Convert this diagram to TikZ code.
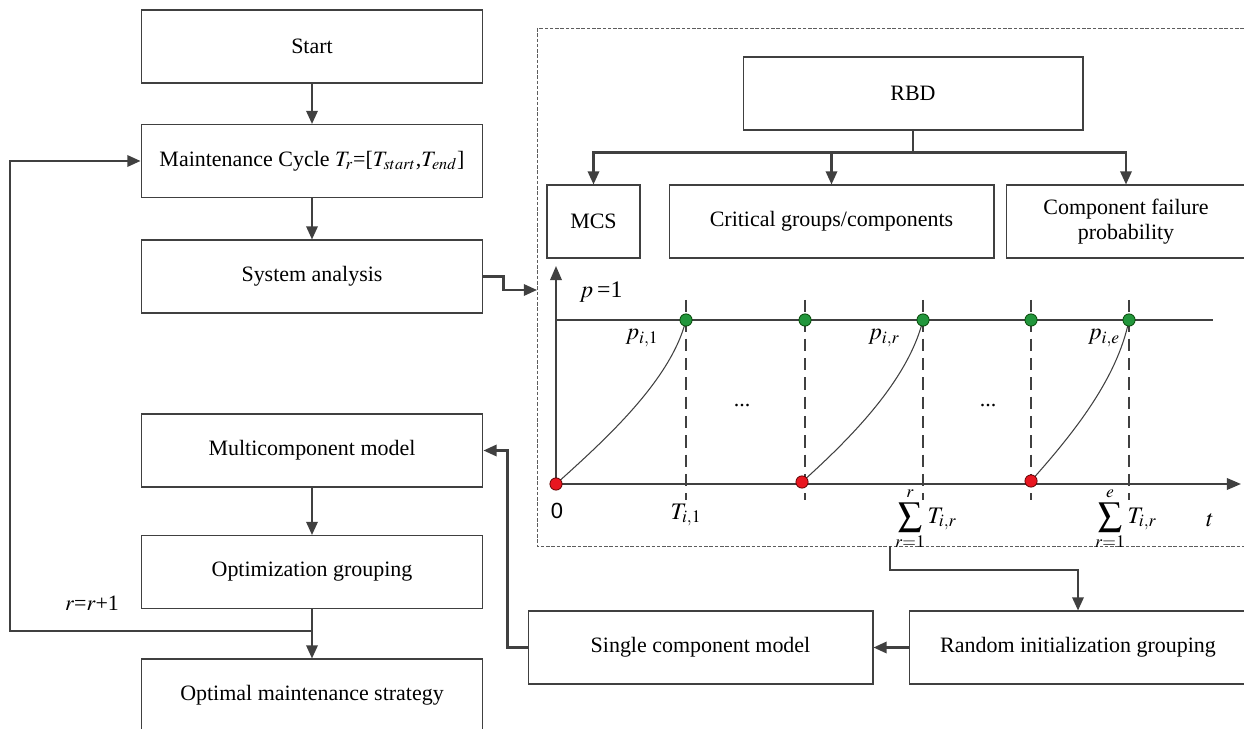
\documentclass[tikz,border=0pt]{standalone}
\usepackage{mathptmx}
\usepackage[no-math]{fontspec}
\setmainfont{Liberation Serif}
\setsansfont{Liberation Sans}
\usetikzlibrary{arrows.meta,positioning,calc}
\definecolor{linegray}{RGB}{64,64,64}
\definecolor{dotgreen}{RGB}{34,150,60}
\definecolor{dotred}{RGB}{232,22,32}

\begin{document}
\begin{tikzpicture}[x=0.02cm,y=-0.02cm,
    font=\fontsize{12.5}{14.5}\selectfont,
    stepbox/.style={draw=linegray, line width=0.6pt, minimum width=6.84cm, minimum height=1.46cm, align=center, inner sep=0pt},
    flow/.style={draw=linegray, line width=1.2pt, -{Triangle[length=7.5pt,width=6.5pt]}},
    wire/.style={draw=linegray, line width=1.2pt},
    gdot/.style={circle, fill=dotgreen, draw=green!25!black, line width=0.4pt, minimum size=7pt, inner sep=0pt},
    rdot/.style={circle, fill=dotred, draw=red!35!black, line width=0.4pt, minimum size=7pt, inner sep=0pt},
    vdash/.style={draw=linegray, line width=0.9pt, dash pattern=on 7pt off 4pt},
    plotlbl/.style={font=\fontsize{13.5}{15}\selectfont},
  ]
  \useasboundingbox (0,0) rectangle (1244,729);

  % left column
  \node[stepbox] (start)   at (312,46.5)  {Start};
  \node[stepbox] (cycle)   at (312,161)   {Maintenance Cycle $T_r$=[$T_{start}$,$T_{end}$]};
  \node[stepbox] (sysan)   at (312,276.5) {System analysis};
  \node[stepbox] (multi)   at (312,450.5) {Multicomponent model};
  \node[stepbox] (optgrp)  at (312,572)   {Optimization grouping};
  \node[stepbox] (optimal) at (312,695.5) {Optimal maintenance strategy};

  \draw[flow] (start) -- (cycle);
  \draw[flow] (cycle) -- (sysan);
  \draw[flow] (multi) -- (optgrp);
  \draw[flow] (optgrp) -- (optimal);

  \coordinate (loopa) at (312,631);
  \draw[flow] (loopa) -- ++(-302,0) |- (cycle.west);
  \node (incr) at (92,603) {$r$=$r$+1};

  % dashed frame
  \draw[linegray!85, line width=0.55pt, dash pattern=on 2pt off 1pt] (537,28) rectangle (1250,546);
  \coordinate (framew) at (537,290);
  \draw[flow] (sysan.east) -- ++(20,0) |- (framew);

  \node[stepbox, minimum width=6.8cm] (rbd) at (913,93.5) {RBD};
  \node[stepbox, minimum width=1.86cm] (mcs) at (593.5,221.5) {MCS};
  \node[stepbox, minimum width=6.5cm] (crit) at (831.5,221.5) {Critical groups/components};
  \node[stepbox, minimum width=4.8cm] (cfp) at (1126,221.5) {Component failure\\probability};
  \draw[wire] (rbd.south) -- ++(0,22) coordinate (rbdj);
  \draw[flow] (rbdj) -| (mcs.north);
  \draw[flow] (rbdj) -| (crit.north);
  \draw[flow] (rbdj) -| (cfp.north);

  % probability plot
  \coordinate (org) at (556,484);
  \draw[draw=linegray, line width=1.2pt, -{Triangle[length=8pt,width=6.5pt]}] (org) -- (556,266);
  \draw[draw=linegray, line width=1.2pt, -{Triangle[length=8pt,width=6.5pt]}] (org) -- (1241,484);
  \draw[draw=linegray, line width=0.7pt] (556,320) -- (1213,320);
  \foreach \x in {686,805,923,1031,1129}
    \draw[vdash] (\x,300) -- (\x,500);

  \coordinate (r1) at (556,484);
  \coordinate (r2) at (802,482);
  \coordinate (r3) at (1031,481);
  \coordinate (g1) at (686,320);
  \coordinate (g2) at (805,320);
  \coordinate (g3) at (923,320);
  \coordinate (g4) at (1031,320);
  \coordinate (g5) at (1129,320);
  \draw[linegray, line width=0.6pt] (r1) .. controls +(50,-45) and +(-15,60) .. (g1);
  \draw[linegray, line width=0.6pt] (r2) .. controls +(50,-45) and +(-15,60) .. (g3);
  \draw[linegray, line width=0.6pt] (r3) .. controls +(40,-45) and +(-12,60) .. (g5);
  \foreach \g in {g1,g2,g3,g4,g5}
    \node[gdot] at (\g) {};
  \foreach \r in {r1,r2,r3}
    \node[rdot] at (\r) {};

  \node[plotlbl] (pone) at (601,292) {$p$\,=1};
  \node[plotlbl] (p1) at (642,338) {$p_{i,1}$};
  \node[plotlbl] (pr) at (884,338) {$p_{i,r}$};
  \node[plotlbl] (pe) at (1104,338) {$p_{i,e}$};
  \node (dots1) at (742,406) {...};
  \node (dots2) at (988,406) {...};
  \node[font=\sffamily\fontsize{12.5}{14}\selectfont] (zero) at (557,511) {0};
  \node[plotlbl] (t1) at (686,515) {$T_{i,1}$};
  \node[plotlbl] (sumr) at (926,519) {$\displaystyle\sum_{r=1}^{r}T_{i,r}$};
  \node[plotlbl] (sume) at (1126,519) {$\displaystyle\sum_{r=1}^{e}T_{i,r}$};
  \node[plotlbl] (tlab) at (1210,520) {$t$};

  % bottom row
  \node[stepbox, minimum width=6.74cm] (rand) at (1078,647.5) {Random initialization grouping};
  \node[stepbox, minimum width=6.9cm] (single) at (700.5,647.5) {Single component model};
  \coordinate (sumb) at (890,546);
  \draw[flow] (sumb) -- ++(0,24) -| (rand.north);
  \draw[flow] (rand.west) -- (single.east);
  \draw[flow] (single.west) -- ++(-20,0) |- (multi.east);
\end{tikzpicture}
\end{document}
